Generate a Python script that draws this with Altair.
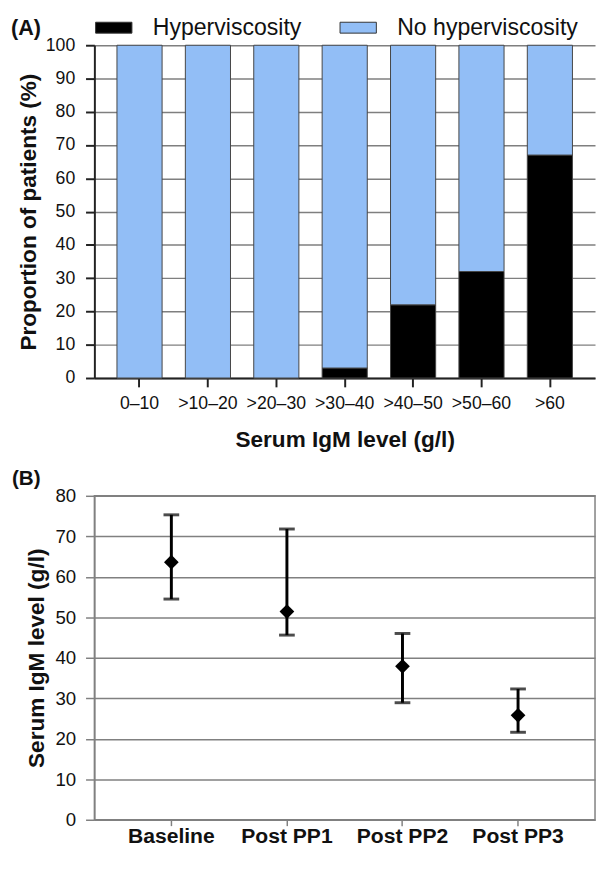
import altair as alt
import pandas as pd

FONT = "Liberation Sans"

# ---- Panel A data ----
categories = ["0–10", ">10–20", ">20–30", ">30–40", ">40–50", ">50–60", ">60"]
hyper = [0, 0, 0, 3, 22, 32, 67]
no_hyper = [100, 100, 100, 97, 78, 68, 33]
status = ["Hyperviscosity", "No hyperviscosity"]
colors = ["#000000", "#92BEF6"]
y_ticks_a = [0, 10, 20, 30, 40, 50, 60, 70, 80, 90, 100]

# ---- Panel B data ----
phases = ["Baseline", "Post PP1", "Post PP2", "Post PP3"]
median_igm = [63.6, 51.4, 37.9, 25.8]
low_igm = [54.5, 45.6, 28.9, 21.6]
high_igm = [75.3, 71.8, 46.0, 32.3]
y_ticks_b = [0, 10, 20, 30, 40, 50, 60, 70, 80]

rows = []
for c, h, n in zip(categories, hyper, no_hyper):
    rows.append({"cat": c, "status": status[0], "ord": 0, "pct": h})
    rows.append({"cat": c, "status": status[1], "ord": 1, "pct": n})
dfa = pd.DataFrame(rows)

bars = alt.Chart(dfa).mark_bar(stroke="#444444", strokeWidth=1).encode(
    x=alt.X(
        "cat:N", sort=categories,
        scale=alt.Scale(paddingInner=0.34, paddingOuter=0.33),
        axis=alt.Axis(
            title="Serum  IgM level (g/l)", labelAngle=0, labelFont=FONT,
            labelFontSize=18, labelColor="#111111", labelPadding=8,
            titleFont=FONT, titleFontSize=23, titleFontWeight="bold",
            titleColor="#111111", titlePadding=17,
            domainColor="#222222", domainWidth=2, tickColor="#222222",
            tickWidth=2, tickSize=9, grid=False,
        ),
    ),
    y=alt.Y(
        "pct:Q", stack="zero",
        scale=alt.Scale(domain=[0, 100], nice=False),
        axis=alt.Axis(
            values=y_ticks_a, title="Proportion of patients  (%)",
            labelFont=FONT, labelFontSize=18, labelColor="#111111",
            labelPadding=11, titleFont=FONT, titleFontSize=23,
            titleFontWeight="bold", titleColor="#111111", titlePadding=5,
            domainColor="#222222", domainWidth=2, tickColor="#222222",
            tickWidth=2, tickSize=9, grid=True, gridColor="#7f7f7f",
            gridWidth=1.5,
        ),
    ),
    color=alt.Color(
        "status:N", scale=alt.Scale(domain=status, range=colors), title=None,
        legend=alt.Legend(
            orient="none", legendX=8, legendY=-30, direction="horizontal",
            symbolType="M-3,-0.9H3V0.9H-3Z", symbolSize=152,
            symbolStrokeColor="#333333", symbolStrokeWidth=1,
            labelFont=FONT, labelFontSize=23.5, labelColor="#111111",
            labelOffset=28, columnPadding=37, labelLimit=400,
        ),
    ),
    order=alt.Order("ord:Q", sort="ascending"),
)

label_a = alt.Chart(pd.DataFrame({"lab": ["(A)"]})).mark_text(
    font=FONT, fontSize=22, fontWeight="bold", align="left",
    baseline="alphabetic", color="#111111",
).encode(text="lab:N", x=alt.value(-85), y=alt.value(-10))

chart_a = alt.layer(bars, label_a).properties(
    width=510, height=339, view=alt.ViewBackground(strokeWidth=0)
)

dfb = pd.DataFrame({"phase": phases, "median": median_igm,
                    "low": low_igm, "high": high_igm})

x_b = alt.X(
    "phase:N", sort=phases,
    scale=alt.Scale(paddingInner=0, paddingOuter=0.166),
    axis=alt.Axis(
        title=None, labelAngle=0, labelFont=FONT, labelFontSize=21.5,
        labelFontWeight="bold", labelColor="#111111", labelPadding=0,
        domainColor="#808080", domainWidth=1.5, tickColor="#808080",
        tickWidth=1.5, tickSize=6, grid=False,
    ),
)

def y_b(field):
    return alt.Y(
        field, scale=alt.Scale(domain=[0, 80], nice=False),
        axis=alt.Axis(
            values=y_ticks_b, title="Serum  IgM level (g/l)",
            labelFont=FONT, labelFontSize=19, labelColor="#111111",
            labelPadding=10, titleFont=FONT, titleFontSize=23,
            titleFontWeight="bold", titleColor="#111111", titlePadding=7,
            domainColor="#808080", domainWidth=1.5, tickColor="#808080",
            tickWidth=1.5, tickSize=9, grid=True, gridColor="#808080",
            gridWidth=1.5,
        ),
    )

base_b = alt.Chart(dfb).encode(x=x_b)
rule = base_b.mark_rule(strokeWidth=3, color="#000000").encode(
    y=y_b("low:Q"), y2="high:Q")
cap_low = base_b.mark_tick(size=16, thickness=3, color="#000000").encode(
    y=y_b("low:Q"))
cap_high = base_b.mark_tick(size=16, thickness=3, color="#000000").encode(
    y=y_b("high:Q"))
pts = base_b.mark_point(shape="diamond", size=225, filled=True,
                        color="#000000", opacity=1).encode(y=y_b("median:Q"))

label_b = alt.Chart(pd.DataFrame({"lab": ["(B)"]})).mark_text(
    font=FONT, fontSize=21, fontWeight="bold", align="left",
    baseline="alphabetic", color="#111111",
).encode(text="lab:N", x=alt.value(-84), y=alt.value(-11))

chart_b = alt.layer(rule, cap_low, cap_high, pts, label_b).properties(
    width=510, height=330,
    view=alt.ViewBackground(stroke="#808080", strokeWidth=1.5),
)

chart = alt.vconcat(chart_a, chart_b, spacing=16).properties(
    padding={"left": 3, "right": 0, "top": 0, "bottom": 0}
).configure(background="white")

chart.save("out.html", embed_options={"renderer": "svg", "actions": False})
